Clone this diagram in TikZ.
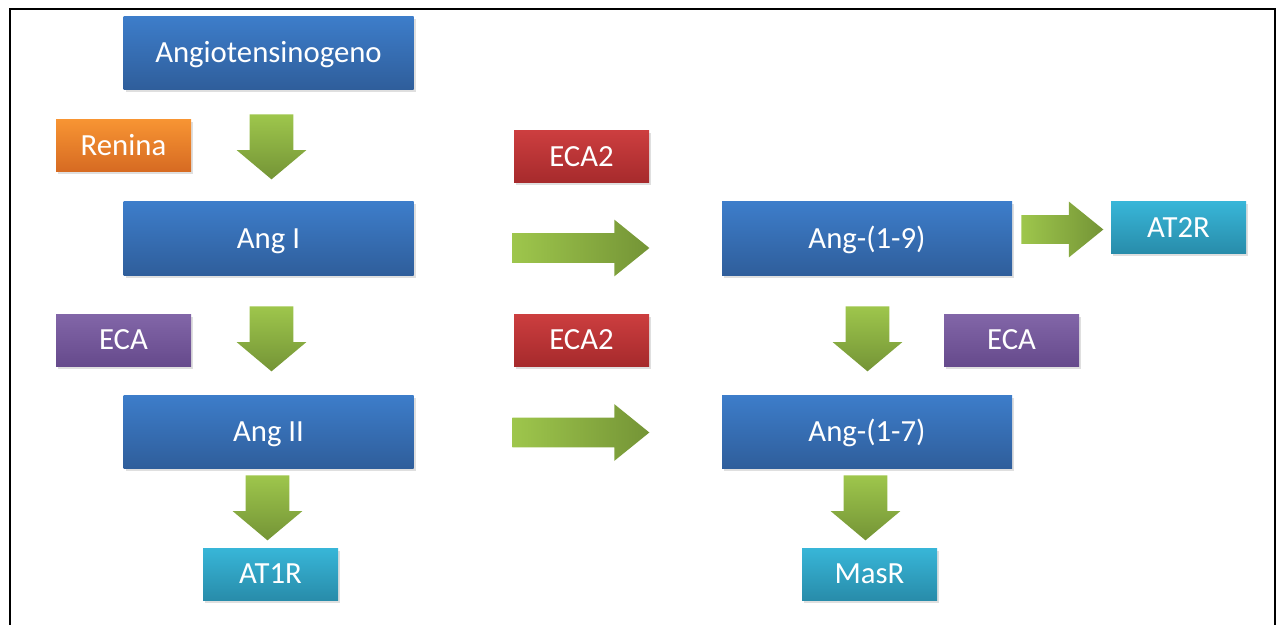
\documentclass[tikz,border=0pt]{standalone}
\usepackage{fontspec}
\setmainfont{Carlito}
\usepackage{xcolor}
\usetikzlibrary{shapes,arrows,positioning,shadows}
\definecolor{blueT}{RGB}{61,125,202}
\definecolor{blueB}{RGB}{47,94,155}
\definecolor{orangeT}{RGB}{247,148,51}
\definecolor{orangeB}{RGB}{214,106,34}
\definecolor{redT}{RGB}{204,62,63}
\definecolor{redB}{RGB}{166,42,44}
\definecolor{purpleT}{RGB}{130,102,168}
\definecolor{purpleB}{RGB}{102,74,140}
\definecolor{cyanT}{RGB}{56,182,216}
\definecolor{cyanB}{RGB}{40,140,170}
\definecolor{greenL}{RGB}{158,198,76}
\definecolor{greenD}{RGB}{116,148,54}

\begin{document}
\begin{tikzpicture}[
    box/.style={rectangle, inner sep=0pt, text=white, font=\fontsize{17.5}{21}\selectfont, text height=11.3pt, text depth=0pt, drop shadow={opacity=0.25, shadow xshift=0.04cm, shadow yshift=-0.05cm}},
    pept/.style={box, top color=blueT, bottom color=blueB, minimum width=5.8cm, minimum height=1.46cm},
    enz/.style={box, minimum width=2.7cm, minimum height=1.04cm},
    recep/.style={enz, top color=cyanT, bottom color=cyanB},
    garrow/.style={single arrow, anchor=tail, inner xsep=0pt},
    darrow/.style={garrow, rotate=-90, top color=greenL, bottom color=greenD, minimum height=1.3cm, inner ysep=0.43cm, single arrow head extend=0.26cm, single arrow tip angle=100},
    rarrow/.style={garrow, left color=greenL, right color=greenD, inner ysep=0.29cm, single arrow head extend=0.27cm, single arrow tip angle=78}
]
\useasboundingbox (0,0) rectangle (25.56,-12.5);

% Frame (open at the bottom)
\draw[line width=1.6pt] (0.2,-12.8) -- (0.2,-0.18) -- (25.5,-0.18) -- (25.5,-12.8);

% Left column: classic pathway
\node[pept] (ango) at (5.37,-1.06) {Angiotensinogeno};
\node[pept] (angI) at (5.37,-4.77) {Ang I};
\node[pept] (angII) at (5.37,-8.63) {Ang II};
\node[recep] (at1r) at (5.41,-11.48) {AT1R};

% Enzymes
\node[enz, top color=orangeT, bottom color=orangeB] (renina) at (2.47,-2.92) {Renina};
\node[enz, top color=purpleT, bottom color=purpleB] (ecaL) at (2.47,-6.8) {ECA};
\node[enz, top color=redT, bottom color=redB] (eca2a) at (11.63,-3.14) {ECA2};
\node[enz, top color=redT, bottom color=redB] (eca2b) at (11.63,-6.8) {ECA2};
\node[enz, top color=purpleT, bottom color=purpleB] (ecaR) at (20.23,-6.8) {ECA};

% Right column: alternative pathway
\node[pept] (ang19) at (17.34,-4.77) {Ang-(1-9)};
\node[pept] (ang17) at (17.34,-8.63) {Ang-(1-7)};
\node[recep] (at2r) at (23.57,-4.55) {AT2R};
\node[recep] (masr) at (17.39,-11.48) {MasR};

% Block arrows (placed by their tails)
\node[darrow] (a1) at (5.43,-2.28) {};
\node[darrow] (a2) at (5.43,-6.12) {};
\node[darrow] (a3) at (5.35,-9.5) {};
\node[darrow] (a4) at (17.35,-6.12) {};
\node[darrow] (a5) at (17.31,-9.5) {};
\node[rarrow, minimum height=2.74cm] (a6) at (10.24,-4.96) {};
\node[rarrow, minimum height=2.74cm] (a7) at (10.24,-8.65) {};
\node[rarrow, minimum height=1.64cm, inner ysep=0.28cm] (a8) at (20.42,-4.59) {};

\end{tikzpicture}
\end{document}
